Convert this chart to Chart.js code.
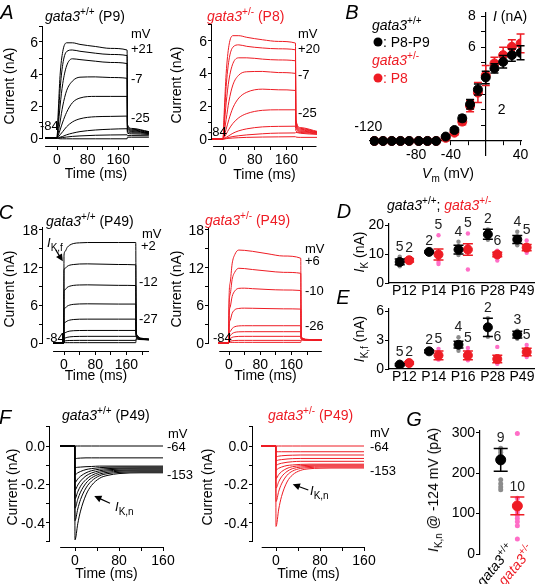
<!DOCTYPE html>
<html>
<head>
<meta charset="utf-8">
<title>gata3 K+ currents</title>
<script src="https://cdn.jsdelivr.net/npm/chart.js@4.4.1/dist/chart.umd.min.js"></script>
<style>
  body { margin: 0; background: #fff; }
  #fig { position: relative; width: 540px; height: 584px; overflow: hidden; font-family: "Liberation Sans", Arial, sans-serif; color: #000; }
  #fig canvas { position: absolute; }
  .t { position: absolute; white-space: nowrap; font-size: 14px; line-height: 1; }
  .L { font-size: 20px; font-style: italic; }
  .s { font-size: 13px; }
  .r { color: #ee1c24; }
  .t sup { font-size: 10px; vertical-align: 0; position: relative; top: -6px; }
  .t sub { font-size: 10px; vertical-align: 0; position: relative; top: 4px; }
  .dot { position: absolute; width: 9px; height: 9px; border-radius: 50%; transform: translate(-50%,-50%); }
</style>
</head>
<body>
<div id="fig"></div>
<script>
// ---------- data ----------
// A: outward K+ currents at P8/P9 (nA), sampled at tA (ms)
const tA = [-31, 0, 3, 8, 15, 25, 40, 60, 100, 140, 183, 184, 195, 240];
const aWT = [
  [0, 0, 1.5, 3.9, 5.4, 5.95, 5.95, 5.85, 5.72, 5.6, 5.5, 0.85, 0.6, 0.4],
  [0, 0, 1.1, 3.0, 4.6, 5.4, 5.5, 5.42, 5.3, 5.22, 5.15, 0.75, 0.55, 0.38],
  [0, 0, 0.7, 2.0, 3.4, 4.5, 4.95, 4.9, 4.8, 4.72, 4.65, 0.7, 0.5, 0.35],
  [0, 0, 0.3, 1.0, 2.0, 2.95, 3.55, 3.8, 3.82, 3.78, 3.73, 0.6, 0.45, 0.32],
  [0, 0, 0.15, 0.5, 1.0, 1.6, 2.2, 2.5, 2.6, 2.6, 2.6, 0.5, 0.4, 0.3],
  [0, 0, 0.05, 0.2, 0.4, 0.7, 1.0, 1.2, 1.33, 1.35, 1.37, 0.4, 0.33, 0.28],
  [0, 0, 0, 0.05, 0.1, 0.2, 0.3, 0.4, 0.5, 0.55, 0.58, 0.3, 0.26, 0.22],
  [0, 0, 0, 0.01, 0.03, 0.06, 0.1, 0.13, 0.17, 0.19, 0.2, 0.15, 0.15, 0.14],
  [0, 0, -0.03, -0.05, -0.05, -0.05, -0.05, -0.05, -0.05, -0.05, -0.05, 0.05, 0.05, 0.05]
];
const aHet = [
  [0, 0, 1.6, 4.0, 5.7, 6.3, 6.3, 6.2, 6.05, 5.95, 5.85, 1.2, 0.7, 0.45],
  [0, 0, 1.2, 3.2, 4.8, 5.6, 5.74, 5.65, 5.55, 5.5, 5.44, 1.1, 0.65, 0.42],
  [0, 0, 0.8, 2.2, 3.6, 4.6, 4.95, 4.95, 4.87, 4.82, 4.77, 1.0, 0.6, 0.4],
  [0, 0, 0.4, 1.2, 2.3, 3.3, 3.9, 4.1, 4.12, 4.05, 4.0, 0.9, 0.55, 0.38],
  [0, 0, 0.2, 0.6, 1.2, 1.9, 2.5, 2.85, 3.04, 3.0, 2.96, 0.8, 0.5, 0.36],
  [0, 0, 0.1, 0.3, 0.6, 0.95, 1.3, 1.55, 1.75, 1.78, 1.78, 0.7, 0.45, 0.34],
  [0, 0, 0.03, 0.1, 0.2, 0.35, 0.5, 0.62, 0.74, 0.77, 0.78, 0.5, 0.4, 0.3],
  [0, 0, 0.01, 0.05, 0.1, 0.15, 0.2, 0.25, 0.32, 0.36, 0.37, 0.4, 0.35, 0.28],
  [0, 0, 0, 0.02, 0.04, 0.06, 0.08, 0.1, 0.12, 0.13, 0.14, 0.12, 0.1, 0.1]
];

// C: P49 currents (nA)
const tC = [-28, -0.5, 0, 3, 8, 15, 25, 40, 60, 100, 140, 184, 185, 188, 195, 240];
const cWT = [
  [0, 0, 14.0, 14.6, 15.2, 15.6, 15.85, 15.95, 16.0, 16.0, 16.0, 16.0, 2.0, 1.2, 0.8, 0.6],
  [0, 0, 11.6, 11.9, 12.2, 12.4, 12.5, 12.58, 12.6, 12.55, 12.5, 12.45, 1.8, 1.1, 0.75, 0.58],
  [0, 0, 8.2, 8.5, 8.85, 9.05, 9.18, 9.24, 9.26, 9.22, 9.18, 9.15, 1.6, 1.0, 0.7, 0.56],
  [0, 0, 5.3, 5.58, 5.86, 6.05, 6.16, 6.22, 6.24, 6.22, 6.2, 6.2, 1.4, 0.95, 0.68, 0.55],
  [0, 0, 3.07, 3.29, 3.5, 3.65, 3.74, 3.79, 3.8, 3.8, 3.8, 3.8, 1.2, 0.9, 0.65, 0.54],
  [0, 0, 1.48, 1.64, 1.79, 1.9, 1.96, 1.99, 2.0, 2.0, 2.0, 2.0, 1.0, 0.85, 0.62, 0.52],
  [0, 0, 0.7, 0.8, 0.9, 0.98, 1.03, 1.05, 1.06, 1.06, 1.06, 1.06, 0.9, 0.8, 0.6, 0.5],
  [0, 0, 0.32, 0.35, 0.38, 0.4, 0.41, 0.42, 0.42, 0.42, 0.42, 0.42, 0.7, 0.7, 0.58, 0.5],
  [0, 0, 0.05, 0.05, 0.05, 0.05, 0.05, 0.05, 0.05, 0.05, 0.05, 0.05, 0.5, 0.6, 0.55, 0.48]
];
const cHet = [
  [0, 0, 6.7, 9.6, 12.6, 14.1, 14.8, 14.75, 14.6, 14.2, 13.85, 13.5, 1.2, 0.8, 0.6, 0.5],
  [0, 0, 5.4, 7.7, 10.1, 11.3, 11.9, 11.85, 11.7, 11.45, 11.25, 11.1, 1.1, 0.75, 0.58, 0.5],
  [0, 0, 3.9, 5.7, 7.4, 8.3, 8.7, 8.73, 8.65, 8.52, 8.44, 8.36, 1.0, 0.7, 0.56, 0.48],
  [0, 0, 2.5, 3.6, 4.7, 5.3, 5.5, 5.55, 5.53, 5.48, 5.44, 5.4, 0.9, 0.65, 0.54, 0.47],
  [0, 0, 1.2, 1.8, 2.3, 2.6, 2.72, 2.75, 2.75, 2.75, 2.75, 2.75, 0.8, 0.6, 0.52, 0.46],
  [0, 0, 0.8, 1.15, 1.5, 1.7, 1.78, 1.8, 1.8, 1.8, 1.8, 1.8, 0.7, 0.58, 0.5, 0.45],
  [0, 0, 0.45, 0.7, 0.9, 1.0, 1.05, 1.06, 1.06, 1.06, 1.06, 1.06, 0.6, 0.55, 0.5, 0.45],
  [0, 0, 0.2, 0.28, 0.36, 0.4, 0.42, 0.42, 0.42, 0.42, 0.42, 0.42, 0.5, 0.5, 0.48, 0.44],
  [0, 0, 0.1, 0.1, 0.1, 0.1, 0.1, 0.1, 0.1, 0.1, 0.1, 0.1, 0.4, 0.45, 0.44, 0.42]
];

// F: inward currents to hyperpolarising steps, P49 (nA)
const tF = [-27, -0.5, 0, 5, 10, 20, 30, 45, 60, 80, 120, 160];
const fWT = [
  [0, 0, 0, 0, 0, 0, 0, 0, 0, 0, 0, 0],
  [0, 0, -0.066, -0.064, -0.063, -0.062, -0.062, -0.062, -0.062, -0.062, -0.062, -0.062],
  [0, 0, -0.113, -0.111, -0.11, -0.108, -0.107, -0.105, -0.105, -0.105, -0.105, -0.105],
  [0, 0, -0.15, -0.14, -0.133, -0.123, -0.118, -0.113, -0.111, -0.11, -0.11, -0.11],
  [0, 0, -0.19, -0.172, -0.158, -0.14, -0.129, -0.121, -0.118, -0.116, -0.115, -0.115],
  [0, 0, -0.23, -0.204, -0.183, -0.156, -0.141, -0.129, -0.124, -0.121, -0.12, -0.12],
  [0, 0, -0.275, -0.239, -0.21, -0.175, -0.154, -0.137, -0.13, -0.127, -0.125, -0.125],
  [0, 0, -0.325, -0.278, -0.241, -0.194, -0.167, -0.146, -0.137, -0.132, -0.13, -0.13],
  [0, 0, -0.39, -0.329, -0.28, -0.219, -0.183, -0.155, -0.144, -0.138, -0.135, -0.135],
  [0, 0, -0.49, -0.406, -0.34, -0.255, -0.206, -0.168, -0.153, -0.144, -0.14, -0.14]
];
const fHet = [
  [0, 0, 0, 0, 0, 0, 0, 0, 0, 0, 0, 0],
  [0, 0, -0.03, -0.03, -0.03, -0.03, -0.03, -0.03, -0.03, -0.03, -0.03, -0.03],
  [0, 0, -0.056, -0.053, -0.051, -0.049, -0.048, -0.047, -0.047, -0.047, -0.047, -0.047],
  [0, 0, -0.077, -0.073, -0.071, -0.068, -0.066, -0.065, -0.065, -0.065, -0.065, -0.065],
  [0, 0, -0.1, -0.094, -0.09, -0.085, -0.082, -0.08, -0.08, -0.08, -0.08, -0.08],
  [0, 0, -0.125, -0.116, -0.11, -0.102, -0.099, -0.096, -0.095, -0.095, -0.095, -0.095],
  [0, 0, -0.17, -0.149, -0.134, -0.117, -0.108, -0.103, -0.101, -0.1, -0.1, -0.1],
  [0, 0, -0.22, -0.186, -0.161, -0.133, -0.118, -0.11, -0.107, -0.105, -0.105, -0.105],
  [0, 0, -0.29, -0.236, -0.198, -0.153, -0.131, -0.117, -0.113, -0.11, -0.11, -0.11],
  [0, 0, -0.42, -0.329, -0.264, -0.188, -0.151, -0.127, -0.119, -0.116, -0.115, -0.115]
];

// B: I-V relation (mV, nA, SEM)
const ivV = [-128, -118, -108, -98, -88, -77, -67, -57, -46, -36, -27, -18, -9, 0, 10, 20, 30, 40];
const ivWT = [0, 0, 0, 0, 0, 0, 0, 0, 0.28, 0.7, 1.45, 2.35, 3.3, 4.07, 4.65, 5.07, 5.5, 5.65];
const ivWTerr = [0.08, 0.08, 0.08, 0.08, 0.08, 0.08, 0.08, 0.08, 0.1, 0.15, 0.2, 0.3, 0.35, 0.4, 0.3, 0.4, 0.4, 0.45];
const ivHet = [0, 0, 0, 0, 0, 0, 0, 0, 0.2, 0.53, 1.24, 2.24, 3.1, 4.2, 4.97, 5.5, 6.03, 6.25];
const ivHetErr = [0.05, 0.05, 0.05, 0.05, 0.05, 0.05, 0.05, 0.05, 0.1, 0.15, 0.2, 0.37, 0.64, 0.64, 0.4, 0.5, 0.45, 0.6];

// D, E: IK and IK,f by age
const ages = ['P12', 'P14', 'P16', 'P28', 'P49'];
const ikWT = [7.3, 10.8, 11.6, 16.9, 15.1];
const ikWTsem = [1.0, 0.3, 1.5, 1.75, 1.4];
const ikWTn = [5, 2, 4, 2, 4];
const ikWTcells = [[5.8, 6.8, 7.5, 8.2, 9.1], [10.6, 11.0], [14.3, 12.8, 10.2, 9.7], [18.6, 15.0], [17.8, 15.5, 13.7, 13.1]];
const ikHet = [7.9, 9.9, 11.6, 9.9, 12.3];
const ikHetSem = [0.6, 1.9, 2.0, 0.8, 1.1];
const ikHetN = [2, 5, 5, 6, 5];
const ikHetCells = [[7.5, 8.3], [16.6, 10.0, 8.5, 7.3, 6.6], [17.2, 13.0, 12.0, 10.8, 4.7], [11.2, 10.5, 10.0, 9.5, 9.0, 7.8], [14.8, 13.0, 12.0, 11.0, 10.5]];

const ikfWT = [0.45, 1.84, 2.53, 4.34, 3.58];
const ikfWTsem = [0.1, 0.15, 0.35, 0.95, 0.35];
const ikfWTn = [5, 2, 4, 2, 3];
const ikfWTcells = [[0.2, 0.3, 0.45, 0.55, 0.75], [1.7, 1.95], [3.3, 2.6, 2.3, 1.9], [5.3, 3.35], [4.0, 3.6, 3.15]];
const ikfHet = [0.62, 1.42, 1.42, 1.04, 1.77];
const ikfHetSem = [0.1, 0.45, 0.45, 0.4, 0.4];
const ikfHetN = [2, 5, 5, 6, 5];
const ikfHetCells = [[0.55, 0.7], [2.1, 1.8, 1.2, 1.0, 1.0], [2.2, 1.8, 1.2, 1.0, 0.9], [2.3, 1.2, 0.9, 0.7, 0.6, 0.55], [2.5, 2.0, 1.7, 1.4, 1.25]];

// G: IK,n at -124 mV (pA)
const iknMean = [233, 119];
const iknSem = [28, 22];
const iknN = [9, 10];
const iknWTcells = [262, 258, 252, 245, 238, 184, 174, 166, 159];
const iknHetCells = [298, 138, 125, 112, 104, 96, 88, 80, 70, 37];

// ticks
const tXTicks = [0, 40, 80, 120, 160, 200];
const tXLabels = [0, 80, 160];
const aYTicks = [0, 1, 2, 3, 4, 5, 6, 7];
const aYLabels = [0, 2, 4, 6];
const cYTicks = [0, 3, 6, 9, 12, 15, 18];
const cYLabels = [0, 6, 12, 18];
const fXTicks = [0, 40, 80, 120, 160];
const fYTicks = [-0.5, -0.4, -0.3, -0.2, -0.1, 0, 0.1];
const fYLabels = [0, -0.2, -0.4];
const ivXTicks = [-120, -100, -80, -60, -40, -20, 20, 40];
const ivYTicks = [1, 2, 3, 4, 5, 6, 7, 8];
const dYTicks = [0, 10, 20];
const eYTicks = [0, 3, 6];
const gYTicks = [0, 100, 200, 300];

// ---------- setup ----------
const fig = document.getElementById('fig');
const RED = '#ee1c24', PINK = '#ff6ec7', GREY = '#8c8c8c';
const FONT = '"Liberation Sans", Arial, sans-serif';

Chart.defaults.font.family = FONT;
Chart.defaults.font.size = 14;
Chart.defaults.color = '#000';
Chart.defaults.animation = false;
Chart.defaults.responsive = false;
Chart.defaults.plugins.legend.display = false;
Chart.defaults.plugins.tooltip.enabled = false;

function canvasAt(l, t, w, h) {
  const c = document.createElement('canvas');
  c.width = w; c.height = h;
  c.style.left = l + 'px'; c.style.top = t + 'px';
  c.style.width = w + 'px'; c.style.height = h + 'px';
  fig.appendChild(c);
  return c.getContext('2d');
}

// text on top of everything (HTML)
function txt(html, x, y, opt = {}) {
  const d = document.createElement('div');
  d.className = 't ' + (opt.cls || '');
  d.innerHTML = html;
  d.style.left = x + 'px'; d.style.top = y + 'px';
  const tr = {l: 'translate(0,-50%)', c: 'translate(-50%,-50%)', r: 'translate(-100%,-50%)'}[opt.anchor || 'l'];
  d.style.transformOrigin = '0 0';
  d.style.transform = (opt.rot ? 'rotate(' + opt.rot + 'deg) ' : '') + tr;
  fig.appendChild(d);
}

// axis lines that do not meet, plus the y tick numbers (trace panels)
function axisLines(xLine, yLine, yLabels, fmt, cvsLeft, cvsTop) {
  return {
    id: 'axisLines',
    afterDraw(chart) {
      const {ctx, chartArea: a, scales: {x, y}} = chart;
      const yb = Math.round(a.bottom) + 0.5, xl = Math.round(a.left) - 0.5;
      ctx.save();
      ctx.strokeStyle = '#000';
      ctx.lineWidth = 1;
      ctx.beginPath();
      ctx.moveTo(x.getPixelForValue(xLine[0]), yb); ctx.lineTo(x.getPixelForValue(xLine[1]), yb);
      ctx.moveTo(xl, y.getPixelForValue(yLine[0])); ctx.lineTo(xl, y.getPixelForValue(yLine[1]));
      ctx.stroke();
      ctx.restore();
      // tick numbers as page text, placed through the y scale
      if (!chart.$numbers) {
        chart.$numbers = true;
        yLabels.forEach(v => txt(fmt(v), cvsLeft + a.left - 5, cvsTop + y.getPixelForValue(v), {anchor: 'r'}));
      }
    }
  };
}

// little arrows in data coordinates
function arrows(list) {
  return {
    id: 'arrows',
    afterDatasetsDraw(chart) {
      const {ctx, scales: {x, y}} = chart;
      ctx.save();
      ctx.strokeStyle = '#000'; ctx.fillStyle = '#000'; ctx.lineWidth = 1.2;
      list.forEach(([x1, y1, x2, y2]) => {
        const ax = x.getPixelForValue(x1), ay = y.getPixelForValue(y1);
        const bx = x.getPixelForValue(x2), by = y.getPixelForValue(y2);
        const ang = Math.atan2(by - ay, bx - ax), h = 8;
        ctx.beginPath(); ctx.moveTo(ax, ay);
        ctx.lineTo(bx - Math.cos(ang) * h * 0.7, by - Math.sin(ang) * h * 0.7); ctx.stroke();
        ctx.beginPath(); ctx.moveTo(bx, by);
        ctx.lineTo(bx - h * Math.cos(ang - 0.45), by - h * Math.sin(ang - 0.45));
        ctx.lineTo(bx - h * Math.cos(ang + 0.45), by - h * Math.sin(ang + 0.45));
        ctx.closePath(); ctx.fill();
      });
      ctx.restore();
    }
  };
}

// error bars (before the points) and n labels
const errBars = {
  id: 'errBars',
  beforeDatasetDraw(chart, args) {
    const ds = chart.data.datasets[args.index];
    if (!ds.err) return;
    const {ctx, scales: {x, y}} = chart;
    ctx.save();
    ctx.strokeStyle = ds.borderColor; ctx.lineWidth = 1.5;
    ctx.beginPath();
    ds.data.forEach((d, i) => {
      const px = x.getPixelForValue(d.x), c = ds.cap;
      const lo = y.getPixelForValue(d.y - ds.err[i]), hi = y.getPixelForValue(d.y + ds.err[i]);
      ctx.moveTo(px, lo); ctx.lineTo(px, hi);
      ctx.moveTo(px - c, lo); ctx.lineTo(px + c, lo);
      ctx.moveTo(px - c, hi); ctx.lineTo(px + c, hi);
    });
    ctx.stroke();
    ctx.restore();
  },
  afterDatasetsDraw(chart) {
    const {ctx, scales: {x, y}} = chart;
    ctx.save();
    ctx.font = '14px ' + FONT; ctx.fillStyle = '#222';
    ctx.textAlign = 'center'; ctx.textBaseline = 'middle';
    chart.data.datasets.forEach(ds => {
      if (!ds.nums) return;
      ds.data.forEach((d, i) => {
        let top = d.y + ds.err[i];
        if (ds.cells) top = Math.max(top, ...ds.cells[i]);
        ctx.fillText(String(ds.nums[i]), x.getPixelForValue(d.x), y.getPixelForValue(top) - 10);
      });
    });
    ctx.restore();
  }
};

// free tick labels for the crossed axes of B
function tickText(items) {
  return {
    id: 'tickText',
    afterDraw(chart) {
      const {ctx, scales: {x, y}} = chart;
      ctx.save();
      ctx.font = '14px ' + FONT; ctx.fillStyle = '#000'; ctx.textBaseline = 'middle';
      items.forEach(it => {
        const px = x.getPixelForValue(it.axis === 'x' ? it.v : 0);
        const py = y.getPixelForValue(it.axis === 'y' ? it.v : 0);
        ctx.textAlign = it.align || 'center';
        ctx.fillText(it.text, px + (it.dx || 0), py + (it.dy || 0));
      });
      ctx.restore();
    }
  };
}

// ---------- trace panels ----------
function traceChart(p) {
  const padT = 12, padR = 16;
  const cl = p.l - p.yW, ct = p.t - padT;
  const ctx = canvasAt(cl, ct, p.r - p.l + p.yW + padR, p.b - p.t + padT + p.xH);
  const xMin = (p.l - p.x0) / p.kx, xMax = (p.r - p.x0) / p.kx;
  const yMax = (p.y0 - p.t) / p.ky, yMin = (p.y0 - p.b) / p.ky;
  return new Chart(ctx, {
    type: 'line',
    data: {
      datasets: p.traces.map(tr => ({
        data: tr.map((v, i) => ({x: p.time[i], y: v})),
        borderColor: p.color, borderWidth: 1, pointRadius: 0,
        cubicInterpolationMode: 'monotone'
      }))
    },
    options: {
      layout: {padding: {top: padT, right: padR, left: 0, bottom: 0}},
      scales: {
        x: {
          type: 'linear', min: xMin, max: xMax,
          afterFit: s => { s.height = p.xH; },
          afterBuildTicks: s => { s.ticks = p.xTicks.map(v => ({value: v})); },
          ticks: {autoSkip: false, maxRotation: 0, padding: 2, callback: v => tXLabels.includes(v) ? String(v) : ''},
          grid: {drawOnChartArea: false, tickLength: 4, color: '#000'},
          border: {display: false},
          title: {display: true, text: 'Time (ms)', padding: {top: 0, bottom: p.xtPad}}
        },
        y: {
          type: 'linear', min: yMin, max: yMax,
          afterFit: s => { s.width = p.yW; },
          afterBuildTicks: s => { s.ticks = p.yTicks.map(v => ({value: v})); },
          ticks: {display: false},
          grid: {drawOnChartArea: false, tickLength: 4, color: '#000'},
          border: {display: false},
          title: {display: true, text: 'Current (nA)', padding: {top: p.ytPad, bottom: 0}}
        }
      }
    },
    plugins: [axisLines(p.xLine, p.yLine || [0, yMax], p.yLabels, p.fmt, cl, ct), arrows(p.arrows || [])]
  });
}

const intFmt = v => String(v);
traceChart({time: tA, traces: aWT, color: '#000', l: 43, r: 149, t: 26, b: 146, x0: 57, kx: 0.383, y0: 138, ky: 16,
  yW: 43, xH: 38, xtPad: 1, ytPad: 2, xTicks: tXTicks, yTicks: aYTicks, yLabels: aYLabels, fmt: intFmt, xLine: [-31, 240]});
traceChart({time: tA, traces: aHet, color: RED, l: 212, r: 317, t: 24, b: 146, x0: 223, kx: 0.396, y0: 139, ky: 16.4,
  yW: 43, xH: 38, xtPad: 0, ytPad: 0, xTicks: tXTicks, yTicks: aYTicks, yLabels: aYLabels, fmt: intFmt, xLine: [-25, 236]});
traceChart({time: tC, traces: cWT, color: '#000', l: 43, r: 149, t: 227, b: 351, x0: 64, kx: 0.39, y0: 343, ky: 6.28,
  yW: 43, xH: 34, xtPad: 0, ytPad: 2, xTicks: tXTicks, yTicks: cYTicks, yLabels: cYLabels, fmt: intFmt, xLine: [-28, 218],
  arrows: [[-21, 14.8, -3, 13.0]]});
traceChart({time: tC, traces: cHet, color: RED, l: 209, r: 322, t: 227, b: 351, x0: 229, kx: 0.39, y0: 343, ky: 6.28,
  yW: 40, xH: 34, xtPad: 0, ytPad: 0, xTicks: tXTicks, yTicks: cYTicks, yLabels: cYLabels, fmt: intFmt, xLine: [-25, 238]});
traceChart({time: tF, traces: fWT, color: '#000', l: 50, r: 163, t: 427, b: 547, x0: 75, kx: 0.55, y0: 446, ky: 191.5,
  yW: 50, xH: 37, xtPad: 1, ytPad: 5, xTicks: fXTicks, yTicks: fYTicks, yLabels: fYLabels, fmt: v => v.toFixed(1),
  xLine: [-27, 160], yLine: [-0.5, 0.1], arrows: [[63.6, -0.299, 35, -0.261]]});
traceChart({time: tF, traces: fHet, color: RED, l: 253, r: 364, t: 427, b: 547, x0: 276, kx: 0.55, y0: 446, ky: 191.5,
  yW: 54, xH: 37, xtPad: 1, ytPad: 1, xTicks: fXTicks, yTicks: fYTicks, yLabels: fYLabels, fmt: v => v.toFixed(1),
  xLine: [-26, 160], yLine: [-0.5, 0.1], arrows: [[58.7, -0.23, 30.4, -0.2]]});

// ---------- B: I-V ----------
new Chart(canvasAt(355, 0, 185, 185), {
  type: 'scatter',
  data: {
    datasets: [
      {data: ivV.map((v, i) => ({x: v, y: ivWT[i]})), err: ivWTerr, cap: 4, backgroundColor: '#000', borderColor: '#000', pointRadius: 4.5, order: 1},
      {data: ivV.map((v, i) => ({x: v, y: ivHet[i]})), err: ivHetErr, cap: 4, backgroundColor: RED, borderColor: RED, pointRadius: 4.5, order: 2}
    ]
  },
  options: {
    layout: {padding: {left: 15, right: 19, top: 13, bottom: 30}},
    scales: {
      x: {type: 'linear', min: -133, max: 40.5, position: {y: 0},
        afterFit: s => { s.height = 0; },
        afterBuildTicks: s => { s.ticks = ivXTicks.map(v => ({value: v})); },
        ticks: {display: false},
        grid: {drawOnChartArea: false, tickLength: 4, color: '#000'},
        border: {color: '#000', width: 1.2}},
      y: {type: 'linear', min: -0.9, max: 8.2, position: {x: 0},
        afterFit: s => { s.width = 0; },
        afterBuildTicks: s => { s.ticks = ivYTicks.map(v => ({value: v})); },
        ticks: {display: false},
        grid: {drawOnChartArea: false, tickLength: 4, color: '#000'},
        border: {color: '#000', width: 1.2}}
    }
  },
  plugins: [errBars, tickText([
    {axis: 'y', v: 8, text: '8', dx: -10, align: 'right'},
    {axis: 'y', v: 6, text: '6', dx: -10, align: 'right'},
    {axis: 'y', v: 2, text: '2', dx: 12, align: 'left'},
    {axis: 'x', v: -120, text: '-120', dx: -13, dy: -14},
    {axis: 'x', v: -80, text: '-80', dy: 14},
    {axis: 'x', v: -40, text: '-40', dy: 14},
    {axis: 'x', v: 40, text: '40', dy: 14}
  ])]
});

// ---------- D, E, G: group scatter ----------
function groupChart(p) {
  const padT = 22, padB = p.xH ? 0 : 10;
  const ctx = canvasAt(p.l - p.yW, p.t - padT, p.r - p.l + p.yW, p.b - p.t + padT + (p.xH || 0) + padB);
  const cellPts = (cells, xs) => cells.flatMap((c, i) => (Array.isArray(c) ? c : [c]).map(v => ({x: xs[Array.isArray(c) ? i : 0], y: v})));
  const meanPts = (m, xs) => m.map((v, i) => ({x: xs[i], y: v}));
  return new Chart(ctx, {
    type: 'scatter',
    data: {
      datasets: [
        {data: cellPts(p.wt.cells, p.xw), backgroundColor: GREY, borderWidth: 0, pointRadius: p.rc, order: 4},
        {data: cellPts(p.het.cells, p.xh), backgroundColor: PINK, borderWidth: 0, pointRadius: p.rc, order: 3},
        {data: meanPts(p.het.mean, p.xh), err: p.het.sem, nums: p.het.n, cells: p.labelOverCells ? p.het.cells : null,
          cap: p.cap, backgroundColor: RED, borderColor: RED, pointRadius: p.rm, order: 2},
        {data: meanPts(p.wt.mean, p.xw), err: p.wt.sem, nums: p.wt.n, cells: p.labelOverCells ? p.wt.cells : null,
          cap: p.cap, backgroundColor: '#000', borderColor: '#000', pointRadius: p.rm, order: 1}
      ]
    },
    options: {
      layout: {padding: {top: padT, right: 0, left: 0, bottom: padB}},
      scales: {
        x: {type: 'linear', display: !!p.xH,
          min: (p.l - p.x0) / p.kx, max: (p.r - p.x0) / p.kx,
          afterFit: s => { s.height = p.xH || 0; },
          afterBuildTicks: s => { s.ticks = ages.map((_, i) => ({value: i})); },
          ticks: {autoSkip: false, maxRotation: 0, padding: 0, callback: v => ages[v]},
          grid: {display: false, drawTicks: false, tickLength: 0},
          border: {display: true, color: '#000', width: 1.2}},
        y: {type: 'linear', min: (p.y0 - p.b) / p.ky, max: (p.y0 - p.t) / p.ky,
          afterFit: s => { s.width = p.yW; },
          afterBuildTicks: s => { s.ticks = p.yTicks.map(v => ({value: v})); },
          ticks: {autoSkip: false, padding: 1, callback: v => String(v)},
          grid: {drawOnChartArea: false, tickLength: 4, color: '#000'},
          border: {display: true, color: '#000', width: 1.2}}
      }
    },
    plugins: [errBars]
  });
}

const xWT = ages.map((_, i) => i - 0.16), xHet = ages.map((_, i) => i + 0.16);
groupChart({l: 389, r: 540, t: 224, b: 283, x0: 405, kx: 30.5, y0: 283, ky: 2.88, yW: 30, xH: 20, yTicks: dYTicks,
  xw: xWT, xh: xHet, rc: 2.2, rm: 4.5, cap: 5, labelOverCells: true,
  wt: {mean: ikWT, sem: ikWTsem, n: ikWTn, cells: ikWTcells}, het: {mean: ikHet, sem: ikHetSem, n: ikHetN, cells: ikHetCells}});
groupChart({l: 389, r: 540, t: 309, b: 369, x0: 405, kx: 30.5, y0: 369, ky: 9.6, yW: 30, xH: 20, yTicks: eYTicks,
  xw: xWT, xh: xHet, rc: 2.2, rm: 4.5, cap: 5, labelOverCells: true,
  wt: {mean: ikfWT, sem: ikfWTsem, n: ikfWTn, cells: ikfWTcells}, het: {mean: ikfHet, sem: ikfHetSem, n: ikfHetN, cells: ikfHetCells}});
groupChart({l: 480, r: 540, t: 431, b: 554, x0: 503, kx: 18.5, y0: 554, ky: 0.404, yW: 30, xH: 0, yTicks: gYTicks,
  xw: [0], xh: [1], rc: 2.5, rm: 5, cap: 7, labelOverCells: false,
  wt: {mean: [iknMean[0]], sem: [iknSem[0]], n: [iknN[0]], cells: iknWTcells},
  het: {mean: [iknMean[1]], sem: [iknSem[1]], n: [iknN[1]], cells: iknHetCells}});

// ---------- text ----------
function dot(x, y, color) {
  const d = document.createElement('div');
  d.className = 'dot';
  d.style.left = x + 'px'; d.style.top = y + 'px'; d.style.background = color;
  fig.appendChild(d);
}
const g = s => '<i>gata3</i><sup>' + s + '</sup>';

// panel letters
[['A', 7, 12], ['B', 352, 12], ['C', 6, 212], ['D', 344, 211], ['E', 343, 297], ['F', 5, 417], ['G', 414, 419]]
  .forEach(([s, x, y]) => txt(s, x, y, {cls: 'L', anchor: 'c'}));

// titles
txt(g('+/+') + ' (P9)', 45, 16);
txt(g('+/-') + ' (P8)', 207, 16, {cls: 'r'});
txt(g('+/+') + ' (P49)', 46, 221);
txt(g('+/-') + ' (P49)', 205, 220, {cls: 'r'});
txt(g('+/+') + ' (P49)', 62, 415);
txt(g('+/-') + ' (P49)', 268, 415, {cls: 'r'});

// step voltages
[['mV', 131, 33], ['+21', 131, 48], ['-7', 131, 78], ['-25', 131, 117], ['-84', 40, 125],
 ['mV', 298, 33], ['+20', 298, 48], ['-7', 298, 74], ['-25', 298, 112], ['-84', 208, 131],
 ['mV', 142, 233], ['+2', 141, 245], ['-12', 139, 281], ['-27', 139, 318], ['-84', 46, 337],
 ['mV', 305, 248], ['+6', 305, 260], ['-10', 305, 290], ['-26', 305, 325], ['-84', 213, 337],
 ['mV', 168, 433], ['-64', 167, 446], ['-153', 167, 474],
 ['mV', 370, 432], ['-64', 370, 446], ['-153', 370, 470]]
  .forEach(([s, x, y]) => txt(s, x, y, {cls: 's'}));
txt('<i>I</i><sub>K,f</sub>', 47, 242, {cls: 's'});
txt('<i>I</i><sub>K,n</sub>', 115, 506, {cls: 's'});
txt('<i>I</i><sub>K,n</sub>', 310, 490, {cls: 's'});

// B legend and axis names
txt(g('+/+'), 372, 25);
dot(378, 42, '#000'); txt(': P8-P9', 383, 42);
txt(g('+/-'), 372, 60, {cls: 'r'});
dot(378, 78, RED); txt(': P8', 383, 78, {cls: 'r'});
txt('<i>I</i> (nA)', 493, 16);
txt('<i>V</i><sub>m</sub> (mV)', 448, 173, {anchor: 'c'});

// D, E, G labels
txt(g('+/+') + '; <span class="r">' + g('+/-') + '</span>', 387, 205);
txt('<i>I</i><sub>K</sub> (nA)', 359, 252, {anchor: 'c', rot: -90});
txt('<i>I</i><sub>K,f</sub> (nA)', 359, 339, {anchor: 'c', rot: -90});
txt('<i>I</i><sub>K,n</sub> @ -124 mV (pA)', 433, 490, {anchor: 'c', rot: -90});
txt(g('+/+'), 511, 546, {anchor: 'r', rot: -50});
txt(g('+/-'), 531, 547, {anchor: 'r', rot: -50, cls: 'r'});
</script>
</body>
</html>
